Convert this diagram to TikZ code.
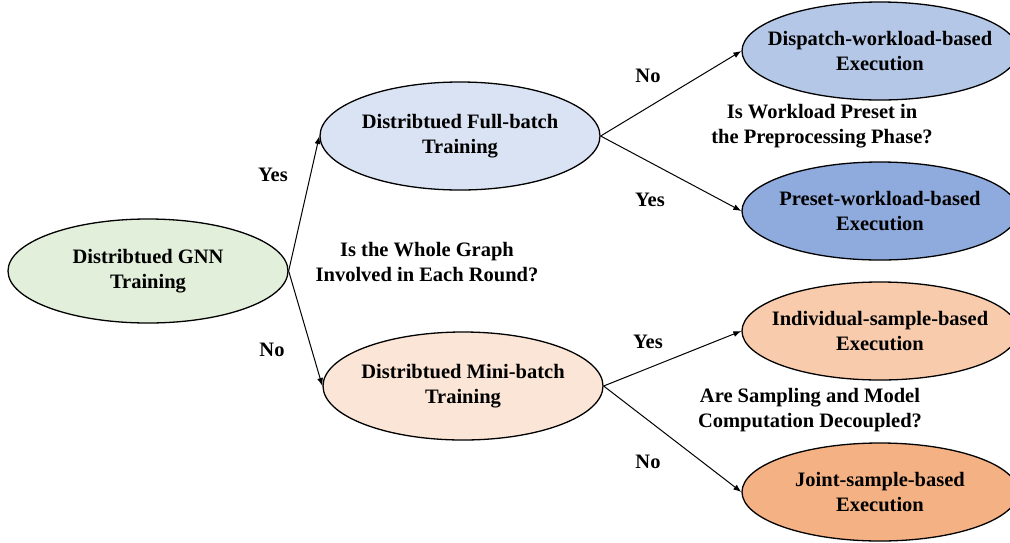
\documentclass[tikz,border=0pt]{standalone}
\usepackage{fontspec}
\setmainfont{Liberation Serif}
\usetikzlibrary{shapes.geometric,arrows.meta}
\definecolor{rootgreen}{HTML}{E2EFDA}
\definecolor{fullblue}{HTML}{DAE3F3}
\definecolor{dispblue}{HTML}{B4C7E7}
\definecolor{presblue}{HTML}{8FAADC}
\definecolor{minior}{HTML}{FBE5D6}
\definecolor{indivor}{HTML}{F8CBAD}
\definecolor{jointor}{HTML}{F4B183}
\begin{document}
\begin{tikzpicture}[x=1pt,y=-1pt,
    oval/.style={ellipse,draw,line width=1.3pt,minimum width=280pt,minimum height=104pt,
      align=center,font=\fontsize{20.5}{25}\selectfont\bfseries,inner ysep=0pt,inner xsep=-15pt},
    leaf/.style={oval,minimum width=276pt,minimum height=98pt,inner xsep=-25pt},
    ask/.style={align=center,font=\fontsize{20.5}{25}\selectfont\bfseries},
    answer/.style={font=\fontsize{20.5}{25}\selectfont\bfseries},
    arr/.style={-{Latex[length=8pt,width=6pt]},line width=1pt}]
  \useasboundingbox (0,0) rectangle (1010,542);
  \draw
    (148,271) node[oval,fill=rootgreen] (gnn) {Distribtued GNN\\Training}
    (460,136) node[oval,fill=fullblue,minimum height=108pt] (full) {Distribtued Full-batch\\Training}
    (463,386) node[oval,fill=minior,minimum height=108pt] (mini) {Distribtued Mini-batch\\Training}
    (880,51) node[leaf,fill=dispblue] (disp) {Dispatch-workload-based\\Execution}
    (880,211) node[leaf,fill=presblue] (pres) {Preset-workload-based\\Execution}
    (880,331) node[leaf,fill=indivor] (indiv) {Individual-sample-based\\Execution}
    (880,492) node[leaf,fill=jointor] (joint) {Joint-sample-based\\Execution};
  % questions
  \node[ask] (q1) at (427,262) {Is the Whole Graph\\Involved in Each Round?};
  \node[ask] (q2) at (822,126) {Is Workload Preset in\\the Preprocessing Phase?};
  \node[ask] (q3) at (810,410) {Are Sampling and Model\\Computation Decoupled?};
  % answers
  \node[answer] (a1) at (273,175) {Yes};
  \node[answer] (a2) at (272,350) {No};
  \node[answer] (a3) at (648,76) {No};
  \node[answer] (a4) at (650,200) {Yes};
  \node[answer] (a5) at (648,342) {Yes};
  \node[answer] (a6) at (648,462) {No};
  \begin{scope}[arr]
    \draw (gnn.east) to (full.west);
    \draw (gnn.east) to (mini.west);
    \draw (full.east) to (disp.west);
    \draw (full.east) to (pres.west);
    \draw (mini.east) to (indiv.west);
    \draw (mini.east) to (joint.west);
  \end{scope}
\end{tikzpicture}
\end{document}
